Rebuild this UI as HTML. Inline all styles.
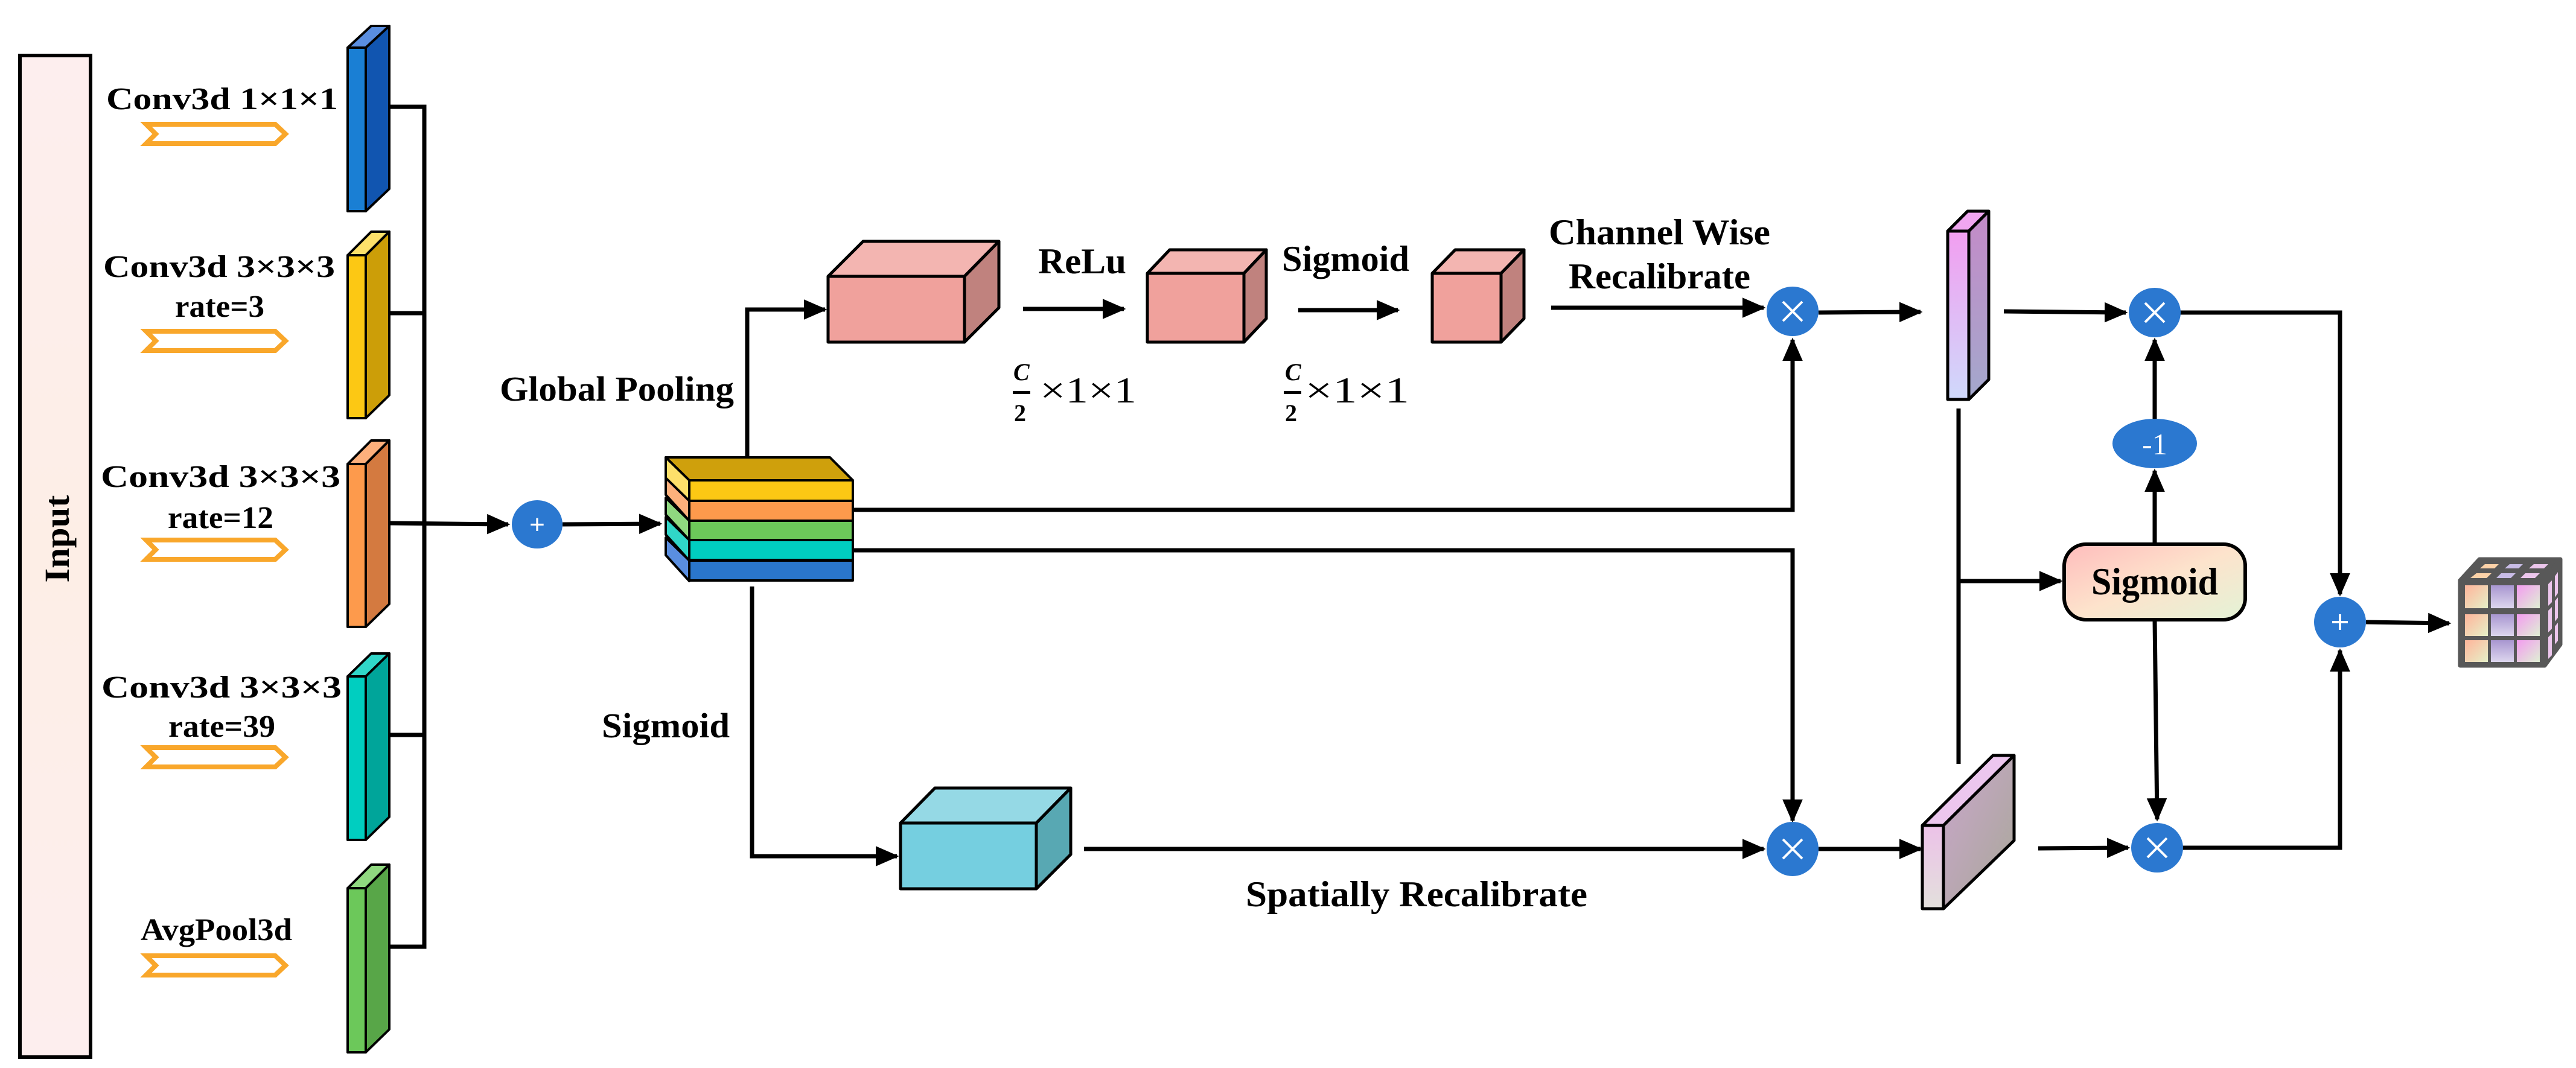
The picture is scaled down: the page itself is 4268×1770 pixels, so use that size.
<!DOCTYPE html>
<html><head><meta charset="utf-8"><style>html,body{margin:0;padding:0;background:#fff}svg{display:block}</style></head><body>
<svg xmlns="http://www.w3.org/2000/svg" width="4268" height="1770" viewBox="0 0 4268 1770">
<defs>
<marker id="ah" markerWidth="6" markerHeight="6" refX="5" refY="3" orient="auto" markerUnits="strokeWidth"><path d="M0,0.6 L5.5,3 L0,5.4 z" fill="#000"/></marker>
<linearGradient id="pinkbar" x1="0" y1="0" x2="0" y2="1"><stop offset="0" stop-color="#f29ef0"/><stop offset="1" stop-color="#cfd9fb"/></linearGradient>
<linearGradient id="pinkside" x1="0" y1="0" x2="0" y2="1"><stop offset="0" stop-color="#c48ac8"/><stop offset="1" stop-color="#a3a8cc"/></linearGradient>
<linearGradient id="lowfront" x1="0" y1="0" x2="0" y2="1"><stop offset="0" stop-color="#ecc2e8"/><stop offset="1" stop-color="#e3e0dc"/></linearGradient>
<linearGradient id="lowside" x1="0" y1="0" x2="1" y2="1"><stop offset="0" stop-color="#caa6cc"/><stop offset="1" stop-color="#a8a898"/></linearGradient>
<linearGradient id="sigg" x1="0" y1="0" x2="1" y2="1"><stop offset="0" stop-color="#ffbcbc"/><stop offset="0.5" stop-color="#fde3cc"/><stop offset="1" stop-color="#e3f3d6"/></linearGradient>
<linearGradient id="inp" x1="0" y1="0" x2="0" y2="1"><stop offset="0" stop-color="#fdeeee"/><stop offset="0.5" stop-color="#fdeee6"/><stop offset="1" stop-color="#fdeeee"/></linearGradient>
<linearGradient id="c1" x1="0" y1="0" x2="1" y2="1"><stop offset="0" stop-color="#ffb49a"/><stop offset="1" stop-color="#e6f0c8"/></linearGradient>
<linearGradient id="c2" x1="0" y1="0" x2="0" y2="1"><stop offset="0" stop-color="#a896d0"/><stop offset="1" stop-color="#ddd6ee"/></linearGradient>
<linearGradient id="c3" x1="0" y1="0" x2="1" y2="1"><stop offset="0" stop-color="#f39cf0"/><stop offset="1" stop-color="#dff0d4"/></linearGradient>
</defs>

<rect x="33" y="92" width="117" height="1660" fill="url(#inp)" stroke="#000" stroke-width="6"/>
<text transform="translate(114,893) rotate(-90)" text-anchor="middle" font-family="Liberation Serif" font-weight="bold" font-size="58" textLength="145" lengthAdjust="spacingAndGlyphs">Input</text>

<g font-family="Liberation Serif" font-weight="bold" font-size="52" fill="#000">
<text x="176" y="181" textLength="384" lengthAdjust="spacingAndGlyphs">Conv3d 1×1×1</text>
<text x="171" y="459" textLength="384" lengthAdjust="spacingAndGlyphs">Conv3d 3×3×3</text>
<text x="290" y="525" textLength="148" lengthAdjust="spacingAndGlyphs">rate=3</text>
<text x="167" y="807" textLength="397" lengthAdjust="spacingAndGlyphs">Conv3d  3×3×3</text>
<text x="278" y="875" textLength="175" lengthAdjust="spacingAndGlyphs">rate=12</text>
<text x="168" y="1156" textLength="398" lengthAdjust="spacingAndGlyphs">Conv3d  3×3×3</text>
<text x="279" y="1221" textLength="177" lengthAdjust="spacingAndGlyphs">rate=39</text>
<text x="233" y="1558" textLength="251" lengthAdjust="spacingAndGlyphs">AvgPool3d</text>
<text x="828" y="664" textLength="388" lengthAdjust="spacingAndGlyphs" font-size="58">Global Pooling</text>
<text x="997" y="1222" textLength="212" lengthAdjust="spacingAndGlyphs" font-size="58">Sigmoid</text>
</g>

<g fill="#fff" stroke="#f9a72b" stroke-width="8" stroke-linejoin="miter">
<polygon points="242,206 456,206 473,222 456,238 242,238 258,222"/>
<polygon points="242,549 456,549 473,565 456,581 242,581 258,565"/>
<polygon points="242,895 456,895 473,911 456,927 242,927 258,911"/>
<polygon points="242,1239 456,1239 473,1255 456,1271 242,1271 258,1255"/>
<polygon points="242,1584 456,1584 473,1600 456,1616 242,1616 258,1600"/>
</g>

<g stroke="#000" stroke-width="4" stroke-linejoin="round">
<polygon points="576,79 615,43 645,43 606,79" fill="#5a8ee0"/><rect x="576" y="79" width="30" height="271" fill="#1a7fd4"/><polygon points="606,79 645,43 645,313 606,350" fill="#1155b0"/>
<polygon points="576,423 615,384 645,384 606,423" fill="#fde06a"/><rect x="576" y="423" width="30" height="270" fill="#fcc814"/><polygon points="606,423 645,384 645,655 606,693" fill="#cc9e08"/>
<polygon points="576,769 615,730 645,730 606,769" fill="#fdb07c"/><rect x="576" y="769" width="30" height="270" fill="#fd9a4c"/><polygon points="606,769 645,730 645,1001 606,1039" fill="#d47a40"/>
<polygon points="576,1121 615,1083 645,1083 606,1121" fill="#30d6c8"/><rect x="576" y="1121" width="30" height="271" fill="#00cec0"/><polygon points="606,1121 645,1083 645,1354 606,1392" fill="#00a59a"/>
<polygon points="576,1472 615,1433 645,1433 606,1472" fill="#90d880"/><rect x="576" y="1472" width="30" height="272" fill="#6cc85a"/><polygon points="606,1472 645,1433 645,1706 606,1744" fill="#58a648"/>
</g>

<g stroke="#000" stroke-width="7" fill="none">
<polyline points="645,177 703,177 703,1569 645,1569"/>
<line x1="645" y1="519" x2="703" y2="519"/>
<line x1="645" y1="1218" x2="703" y2="1218"/>
<line x1="645" y1="867" x2="842" y2="869" marker-end="url(#ah)"/>
<line x1="932" y1="869" x2="1094" y2="868" marker-end="url(#ah)"/>
</g>
<ellipse cx="890" cy="869" rx="42" ry="40" fill="#2b78d0"/>
<text x="890" y="884" text-anchor="middle" font-family="Liberation Sans" font-size="44" fill="#fff">+</text>

<g stroke="#000" stroke-width="4" stroke-linejoin="round">
<polygon points="1103,920 1142,963 1142,929 1103,891" fill="#5a8ee0"/><rect x="1142" y="929" width="271" height="33" fill="#2a76cc"/>
<polygon points="1103,886 1142,929 1142,895 1103,857" fill="#30d6c8"/><rect x="1142" y="895" width="271" height="33" fill="#00cec0"/>
<polygon points="1103,853 1142,895 1142,863 1103,825" fill="#90d880"/><rect x="1142" y="863" width="271" height="32" fill="#6cc85a"/>
<polygon points="1103,820 1142,863 1142,830 1103,792" fill="#fdb07c"/><rect x="1142" y="830" width="271" height="33" fill="#fd9a4c"/>
<polygon points="1103,758 1375,758 1413,796 1142,796" fill="#cfa00c"/>
<polygon points="1103,758 1142,796 1142,830 1103,792" fill="#fde06a"/><rect x="1142" y="796" width="271" height="34" fill="#fcc814"/>
</g>

<g stroke="#000" stroke-width="7" fill="none">
<polyline points="1238,758 1238,513 1367,513" marker-end="url(#ah)"/>
<line x1="1695" y1="512" x2="1862" y2="512" marker-end="url(#ah)"/>
<line x1="2151" y1="514" x2="2316" y2="514" marker-end="url(#ah)"/>
<line x1="2570" y1="510" x2="2922" y2="510" marker-end="url(#ah)"/>
<polyline points="1413,845 2970,845 2970,563" marker-end="url(#ah)"/>
<polyline points="1413,912 2970,912 2970,1360" marker-end="url(#ah)"/>
<polyline points="1246,972 1246,1419 1486,1419" marker-end="url(#ah)"/>
<line x1="1796" y1="1407" x2="2922" y2="1407" marker-end="url(#ah)"/>
<line x1="3013" y1="518" x2="3182" y2="517" marker-end="url(#ah)"/>
<line x1="3013" y1="1407" x2="3182" y2="1407" marker-end="url(#ah)"/>
<line x1="3320" y1="516" x2="3522" y2="518" marker-end="url(#ah)"/>
<line x1="3245" y1="677" x2="3245" y2="1266"/>
<line x1="3245" y1="963" x2="3414" y2="963" marker-end="url(#ah)"/>
<line x1="3570" y1="901" x2="3570" y2="780" marker-end="url(#ah)"/>
<line x1="3570" y1="694" x2="3570" y2="563" marker-end="url(#ah)"/>
<line x1="3570" y1="1027" x2="3574" y2="1358" marker-end="url(#ah)"/>
<line x1="3377" y1="1406" x2="3526" y2="1405" marker-end="url(#ah)"/>
<polyline points="3612,518 3877,518 3877,985" marker-end="url(#ah)"/>
<polyline points="3616,1405 3877,1405 3877,1078" marker-end="url(#ah)"/>
<line x1="3920" y1="1031" x2="4058" y2="1033" marker-end="url(#ah)"/>
</g>

<g stroke="#000" stroke-width="5" stroke-linejoin="round">
<polygon points="1372,458 1430,400 1655,400 1598,458" fill="#f3b5b1"/><rect x="1372" y="458" width="226" height="109" fill="#f0a19c"/><polygon points="1598,458 1655,400 1655,510 1598,567" fill="#c0827e"/>
<polygon points="1901,453 1938,414 2098,414 2061,453" fill="#f3b5b1"/><rect x="1901" y="453" width="160" height="114" fill="#f0a19c"/><polygon points="2061,453 2098,414 2098,528 2061,567" fill="#c0827e"/>
<polygon points="2373,453 2411,414 2525,414 2487,453" fill="#f3b5b1"/><rect x="2373" y="453" width="114" height="114" fill="#f0a19c"/><polygon points="2487,453 2525,414 2525,528 2487,567" fill="#c0827e"/>
<polygon points="1492,1364 1549,1306 1774,1306 1717,1364" fill="#95d9e5"/><rect x="1492" y="1364" width="225" height="109" fill="#75cfe0"/><polygon points="1717,1364 1774,1306 1774,1416 1717,1473" fill="#58a8b3"/>
<polygon points="3227,383 3260,350 3295,350 3262,383" fill="#f0a6f0"/><rect x="3227" y="383" width="35" height="279" fill="url(#pinkbar)"/><polygon points="3262,383 3295,350 3295,629 3262,662" fill="url(#pinkside)"/>
<polygon points="3185,1368 3302,1252 3337,1252 3220,1368" fill="#ecc6ee"/><rect x="3185" y="1368" width="35" height="138" fill="url(#lowfront)"/><polygon points="3220,1368 3337,1252 3337,1393 3220,1506" fill="url(#lowside)"/>
</g>

<rect x="3420" y="902" width="300" height="125" rx="36" fill="url(#sigg)" stroke="#000" stroke-width="6"/>
<text x="3465" y="985" font-family="Liberation Serif" font-weight="bold" font-size="64" textLength="210" lengthAdjust="spacingAndGlyphs">Sigmoid</text>

<g fill="#2b78d0">
<ellipse cx="2970" cy="516" rx="43" ry="41"/>
<ellipse cx="2970" cy="1407" rx="43" ry="45"/>
<ellipse cx="3570" cy="518" rx="43" ry="41"/>
<ellipse cx="3574" cy="1405" rx="43" ry="41"/>
<ellipse cx="3877" cy="1031" rx="43" ry="42"/>
<ellipse cx="3570" cy="735" rx="70" ry="41"/>
</g>
<g stroke="#fff" stroke-width="4">
<path d="M2954,500 L2986,532 M2986,500 L2954,532"/>
<path d="M2954,1391 L2986,1423 M2986,1391 L2954,1423"/>
<path d="M3554,502 L3586,534 M3586,502 L3554,534"/>
<path d="M3558,1389 L3590,1421 M3590,1389 L3558,1421"/>
<path d="M3864,1031 L3890,1031 M3877,1018 L3877,1044"/>
</g>
<text x="3570" y="753" text-anchor="middle" font-family="Liberation Serif" font-size="50" fill="#fff">-1</text>

<g font-family="Liberation Serif" font-weight="bold" font-size="60" fill="#000">
<text x="1720" y="453" textLength="146" lengthAdjust="spacingAndGlyphs">ReLu</text>
<text x="2124" y="449" textLength="211" lengthAdjust="spacingAndGlyphs">Sigmoid</text>
<text x="2566" y="405" textLength="367" lengthAdjust="spacingAndGlyphs">Channel Wise</text>
<text x="2599" y="478" textLength="301" lengthAdjust="spacingAndGlyphs">Recalibrate</text>
<text x="2064" y="1502" textLength="566" lengthAdjust="spacingAndGlyphs">Spatially  Recalibrate</text>
</g>

<g font-family="Liberation Serif" font-weight="bold" fill="#000">
<text x="1679" y="630" font-size="40" font-style="italic">C</text>
<rect x="1678" y="648" width="29" height="5"/>
<text x="1680" y="698" font-size="40">2</text>
<text x="1723" y="667" font-size="60" font-weight="normal" textLength="160" lengthAdjust="spacingAndGlyphs">×1×1</text>
<text x="2129" y="630" font-size="40" font-style="italic">C</text>
<rect x="2127" y="648" width="29" height="5"/>
<text x="2129" y="698" font-size="40">2</text>
<text x="2162" y="667" font-size="60" font-weight="normal" textLength="173" lengthAdjust="spacingAndGlyphs">×1×1</text>
</g>

<g stroke="#585858" stroke-width="7" stroke-linejoin="round">
<polygon points="4076,962 4108,927 4242,927 4216,962" fill="#585858"/>
<polygon points="4216,962 4242,927 4242,1068 4216,1103" fill="#585858"/>
<rect x="4076" y="962" width="140" height="141" fill="#585858"/>
</g>
<g stroke="none">
<rect x="4084" y="970" width="38" height="38" fill="url(#c1)"/><rect x="4127" y="970" width="38" height="38" fill="url(#c2)"/><rect x="4170" y="970" width="38" height="38" fill="url(#c3)"/>
<rect x="4084" y="1018" width="38" height="36" fill="url(#c1)"/><rect x="4127" y="1018" width="38" height="36" fill="url(#c2)"/><rect x="4170" y="1018" width="38" height="36" fill="url(#c3)"/>
<rect x="4084" y="1061" width="38" height="36" fill="url(#c1)"/><rect x="4127" y="1061" width="38" height="36" fill="url(#c2)"/><rect x="4170" y="1061" width="38" height="36" fill="url(#c3)"/>
<polygon points="4093,958 4103,950 4128,950 4120,958" fill="#fcd2a8"/><polygon points="4136,958 4144,950 4168,950 4160,958" fill="#c8bce6"/><polygon points="4176,958 4184,950 4208,950 4200,958" fill="#ecc6ec"/>
<polygon points="4109,942 4117,935 4140,935 4133,942" fill="#fcd2a8"/><polygon points="4150,942 4158,935 4180,935 4173,942" fill="#c8bce6"/><polygon points="4190,942 4198,935 4222,935 4215,942" fill="#ecc6ec"/>
<polygon points="4222,968 4228,962 4228,998 4222,1004" fill="#ecc6ec"/><polygon points="4222,1012 4228,1006 4228,1042 4222,1048" fill="#ecc6ec"/><polygon points="4222,1056 4228,1050 4228,1086 4222,1092" fill="#ecc6ec"/>
<polygon points="4233,955 4238,948 4238,983 4233,990" fill="#ecc6ec"/><polygon points="4233,996 4238,990 4238,1024 4233,1030" fill="#ecc6ec"/><polygon points="4233,1038 4238,1032 4238,1062 4233,1068" fill="#ecc6ec"/>
</g>
</svg>
</body></html>
